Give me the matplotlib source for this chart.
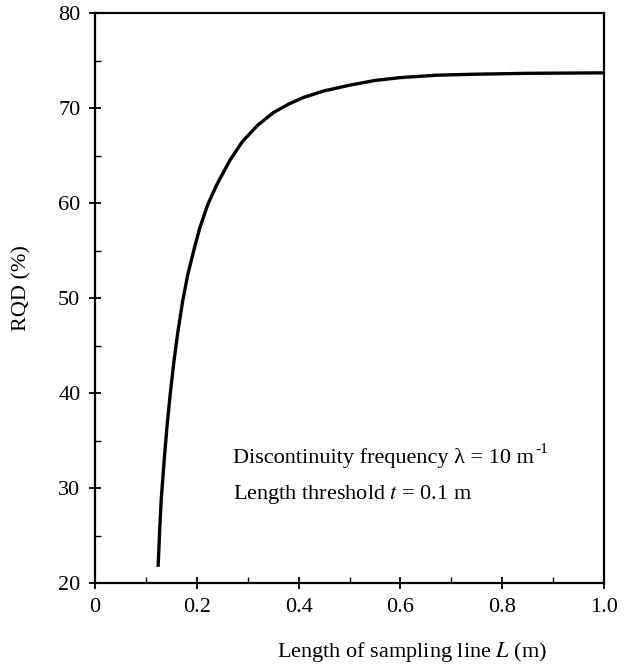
import matplotlib.pyplot as plt
from matplotlib.ticker import MultipleLocator

# curve
L = [0.124, 0.127, 0.130, 0.136, 0.142, 0.148, 0.155, 0.163, 0.172, 0.182,
     0.194, 0.206, 0.222, 0.239, 0.265, 0.290, 0.320, 0.350, 0.380, 0.409,
     0.450, 0.500, 0.550, 0.600, 0.670, 0.740, 0.850, 1.0]
rqd = [21.7, 25.5, 28.7, 33.0, 36.8, 40.0, 43.3, 46.5, 49.6, 52.4,
       55.0, 57.4, 59.9, 61.9, 64.5, 66.5, 68.2, 69.5, 70.4, 71.1,
       71.8, 72.4, 72.9, 73.2, 73.45, 73.55, 73.65, 73.7]

xticks = [0, 0.2, 0.4, 0.6, 0.8, 1.0]
xticklabels = ["0", "0.2", "0.4", "0.6", "0.8", "1.0"]
yticks = [20, 30, 40, 50, 60, 70, 80]

plt.rcParams['font.family'] = ['Liberation Serif', 'DejaVu Serif']
plt.rcParams['mathtext.fontset'] = 'stix'

fig = plt.figure(figsize=(6.27, 6.66), dpi=100)
ax = fig.add_axes([95/627, 1 - 583/666, (604-95)/627, (583-13)/666])

ax.plot(L, rqd, color='black', lw=2.4, solid_capstyle='butt',
        solid_joinstyle='round')

ax.set_xlim(0, 1.0)
ax.set_ylim(20, 80)
ax.set_xticks(xticks)
ax.set_xticklabels(xticklabels)
ax.set_yticks(yticks)
ax.xaxis.set_minor_locator(MultipleLocator(0.1))
ax.yaxis.set_minor_locator(MultipleLocator(5))
ax.tick_params(which='major', direction='inout', length=9, width=1.3,
               labelsize=16, pad=6)
ax.tick_params(which='minor', direction='in', length=4, width=1.0)
for s in ax.spines.values():
    s.set_linewidth(1.6)

ax.text(0.271, 33.2, "Discontinuity frequency λ = 10 m",
        fontsize=16, va='center', ha='left')
ax.annotate("-1", xy=(1, 1), xycoords=ax.texts[-1], xytext=(1, 3),
            textcoords='offset points', fontsize=11, va='top', ha='left')
ax.text(0.271, 29.3, r"Length threshold $t$ = 0.1 m",
        fontsize=16, va='center', ha='left')

fig.text(22/627, 1 - 288/666, "RQD (%)", rotation=90, fontsize=16,
         ha='center', va='center')
fig.text(277/627, 1 - 652/666, r"Length of sampling line $L$ (m)",
         fontsize=16, ha='left', va='center')

fig.savefig("out.png", dpi=100)
